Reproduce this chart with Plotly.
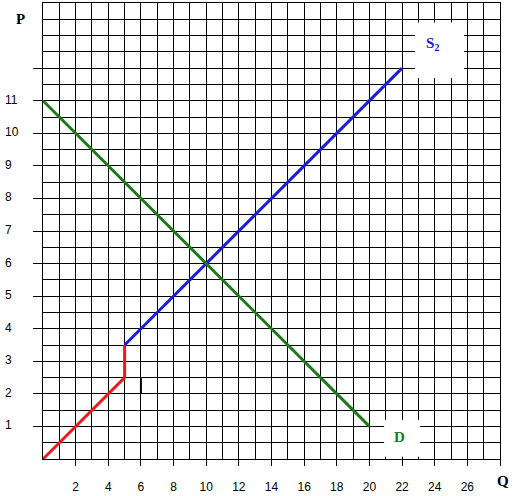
import plotly.graph_objects as go

# Data
red_q = [0, 5, 5]
red_p = [0, 2.5, 3.5]
s2_q = [5, 22]
s2_p = [3.5, 12]
d_q = [0, 20]
d_p = [11, 1]
mark_q = [6, 6]
mark_p = [2.02, 2.48]

x_ticks = [2, 4, 6, 8, 10, 12, 14, 16, 18, 20, 22, 24, 26]
x_ticks_marks = x_ticks + [28]
y_ticks = [1, 2, 3, 4, 5, 6, 7, 8, 9, 10, 11, 12]
y_labels = [1, 2, 3, 4, 5, 6, 7, 8, 9, 10, 11]

fig = go.Figure()
fig.add_trace(go.Scatter(x=red_q, y=red_p, mode="lines",
                         line=dict(color="#f01818", width=3), hoverinfo="skip"))
fig.add_trace(go.Scatter(x=s2_q, y=s2_p, mode="lines",
                         line=dict(color="#1c1cd8", width=3), hoverinfo="skip"))
fig.add_trace(go.Scatter(x=d_q, y=d_p, mode="lines",
                         line=dict(color="#1a7a1a", width=3), hoverinfo="skip"))
fig.add_trace(go.Scatter(x=mark_q, y=mark_p, mode="lines",
                         line=dict(color="black", width=2), hoverinfo="skip"))

# white label boxes
fig.add_shape(type="rect", x0=22.8, x1=25.8, y0=11.7, y1=13.4,
              fillcolor="white", line=dict(width=0), layer="above")
fig.add_shape(type="rect", x0=20.9, x1=23.1, y0=0.07, y1=1.2,
              fillcolor="white", line=dict(width=0), layer="above")

fig.add_annotation(x=23.9, y=12.75, text="<b>S<sub>2</sub></b>", showarrow=False,
                   xanchor="center", yanchor="middle",
                   font=dict(family="Liberation Serif", size=15, color="#1c1cd8"))
fig.add_annotation(x=21.85, y=0.68, text="<b>D</b>", showarrow=False,
                   xanchor="center", yanchor="middle",
                   font=dict(family="Liberation Serif", size=15, color="#1a7a1a"))

# axis titles
fig.add_annotation(xref="paper", yref="paper", x=(20 - 43) / 457, y=(459 - 19) / 456,
                   xanchor="center", yanchor="middle",
                   text="<b>P</b>", showarrow=False,
                   font=dict(family="Liberation Serif", size=15, color="black"))
fig.add_annotation(xref="paper", yref="paper", x=(503 - 43) / 457, y=(459 - 481) / 456,
                   xanchor="center", yanchor="middle",
                   text="<b>Q</b>", showarrow=False,
                   font=dict(family="Liberation Serif", size=15, color="black"))

# y tick labels (left aligned)
for v in y_labels:
    fig.add_annotation(xref="paper", yref="y", x=(3 - 43) / 457, y=v + 0.03,
                       xanchor="left", yanchor="middle", text=str(v), showarrow=False,
                       font=dict(family="Liberation Sans", size=12, color="black"))

fig.update_xaxes(range=[0, 28], tickvals=x_ticks_marks,
                 ticktext=[str(v) for v in x_ticks] + [""],
                 ticks="outside", ticklen=6, tickcolor="black", tickwidth=1,
                 ticklabelstandoff=11, automargin=False,
                 tickfont=dict(family="Liberation Sans", size=12, color="black"),
                 showgrid=True, gridcolor="black", gridwidth=1,
                 minor=dict(dtick=1, tick0=0, showgrid=True, gridcolor="black", gridwidth=1),
                 showline=True, linecolor="black", linewidth=1, mirror=True,
                 zeroline=False, fixedrange=True)
fig.update_yaxes(range=[0, 14], tickvals=y_ticks, ticktext=[""] * len(y_ticks),
                 ticks="outside", ticklen=9, tickcolor="black", tickwidth=1,
                 automargin=False,
                 showgrid=True, gridcolor="black", gridwidth=1,
                 minor=dict(dtick=0.5, tick0=0, showgrid=True, gridcolor="black", gridwidth=1),
                 showline=True, linecolor="black", linewidth=1, mirror=True,
                 zeroline=False, fixedrange=True)

fig.update_layout(width=514, height=496, showlegend=False,
                  margin=dict(l=43, r=14, t=3, b=37, autoexpand=False),
                  plot_bgcolor="white", paper_bgcolor="white")

fig.write_html("out.html", config={"displayModeBar": False},
               post_script="document.body.style.margin='0';document.body.style.overflow='hidden';")
